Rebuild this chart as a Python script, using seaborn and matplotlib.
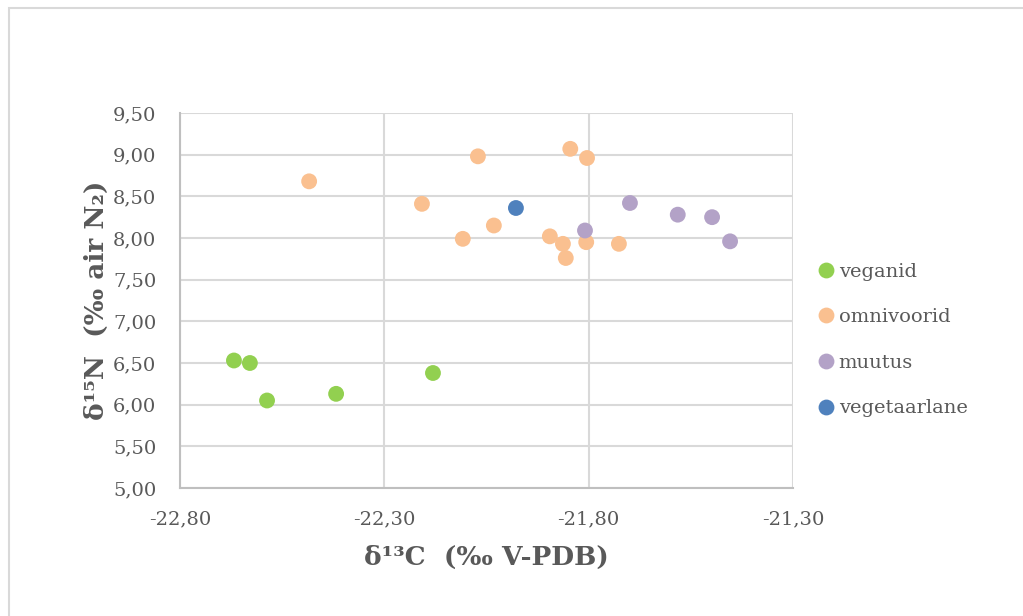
import matplotlib
matplotlib.use("Agg")
import matplotlib.pyplot as plt
import seaborn as sns
import pandas as pd
from matplotlib.patches import Rectangle
from matplotlib.ticker import FixedLocator, FuncFormatter

veganid_x = [-22.668, -22.629, -22.587, -22.418, -22.181]
veganid_y = [6.53, 6.50, 6.05, 6.13, 6.38]

omnivoorid_x = [-22.484, -22.208, -22.108, -22.071, -22.032, -21.895, -21.863,
                -21.856, -21.845, -21.804, -21.806, -21.726]
omnivoorid_y = [8.68, 8.41, 7.99, 8.98, 8.15, 8.02, 7.93, 7.76, 9.07, 8.96, 7.95, 7.93]

muutus_x = [-21.809, -21.699, -21.582, -21.498, -21.454]
muutus_y = [8.09, 8.42, 8.28, 8.25, 7.96]

vegetaarlane_x = [-21.978]
vegetaarlane_y = [8.36]

groups = ["veganid", "omnivoorid", "muutus", "vegetaarlane"]
colors = ["#92d050", "#fac090", "#b3a2c7", "#4f81bd"]

x_ticks = [-22.80, -22.30, -21.80, -21.30]
y_ticks = [5.00, 5.50, 6.00, 6.50, 7.00, 7.50, 8.00, 8.50, 9.00, 9.50]

rows = []
for g, xs, ys in zip(groups,
                     [veganid_x, omnivoorid_x, muutus_x, vegetaarlane_x],
                     [veganid_y, omnivoorid_y, muutus_y, vegetaarlane_y]):
    for a, b in zip(xs, ys):
        rows.append({"x": a, "y": b, "group": g})
df = pd.DataFrame(rows)

sns.set_theme(style="white")
plt.rcParams['font.family'] = ['DejaVu Serif', 'DejaVu Sans']

fig = plt.figure(figsize=(10.23, 6.16), dpi=100)
fig.patch.set_facecolor("white")
fig.patches.append(Rectangle((9/1023, -0.1), 1.2, 1 - 8/616 + 0.1, transform=fig.transFigure,
                             fill=False, edgecolor="#d9d9d9", linewidth=1.5))

ax = fig.add_axes([180/1023, 1 - 488/616, 613/1023, 375/616])
sns.scatterplot(data=df, x="x", y="y", hue="group", hue_order=groups,
                palette=colors, s=130, edgecolor="none", ax=ax, zorder=3)

ax.set_xlim(-22.80, -21.30)
ax.set_ylim(5.0, 9.5)
ax.xaxis.set_major_locator(FixedLocator(x_ticks))
ax.yaxis.set_major_locator(FixedLocator(y_ticks))
fmt = FuncFormatter(lambda v, p: f"{v:.2f}".replace(".", ","))
ax.xaxis.set_major_formatter(fmt)
ax.yaxis.set_major_formatter(fmt)
ax.grid(True, color="#d9d9d9", linewidth=1.5, zorder=0)
ax.set_axisbelow(True)
for s in ["top", "right"]:
    ax.spines[s].set_visible(False)
for s in ["left", "bottom"]:
    ax.spines[s].set_color("#bfbfbf")
    ax.spines[s].set_linewidth(1.5)
ax.tick_params(axis="both", length=0, labelsize=14, colors="#595959")
ax.tick_params(axis="x", pad=16)
ax.tick_params(axis="y", pad=17)

ax.set_xlabel("δ¹³C  (‰ V-PDB)", fontsize=19, fontweight="bold", color="#595959", labelpad=12)
ax.set_ylabel("δ¹⁵N  (‰ air N₂)", fontsize=19, fontweight="bold", color="#595959", labelpad=3)

leg = ax.legend(loc="upper left", bbox_to_anchor=(1.0253, 0.622), frameon=False,
                fontsize=14, labelspacing=1.42, handletextpad=0.15, handlelength=1.0,
                markerscale=1.0, borderaxespad=0)
for t in leg.get_texts():
    t.set_color("#595959")
ax.get_legend().set_title(None)

fig.savefig("out.png", dpi=100)
